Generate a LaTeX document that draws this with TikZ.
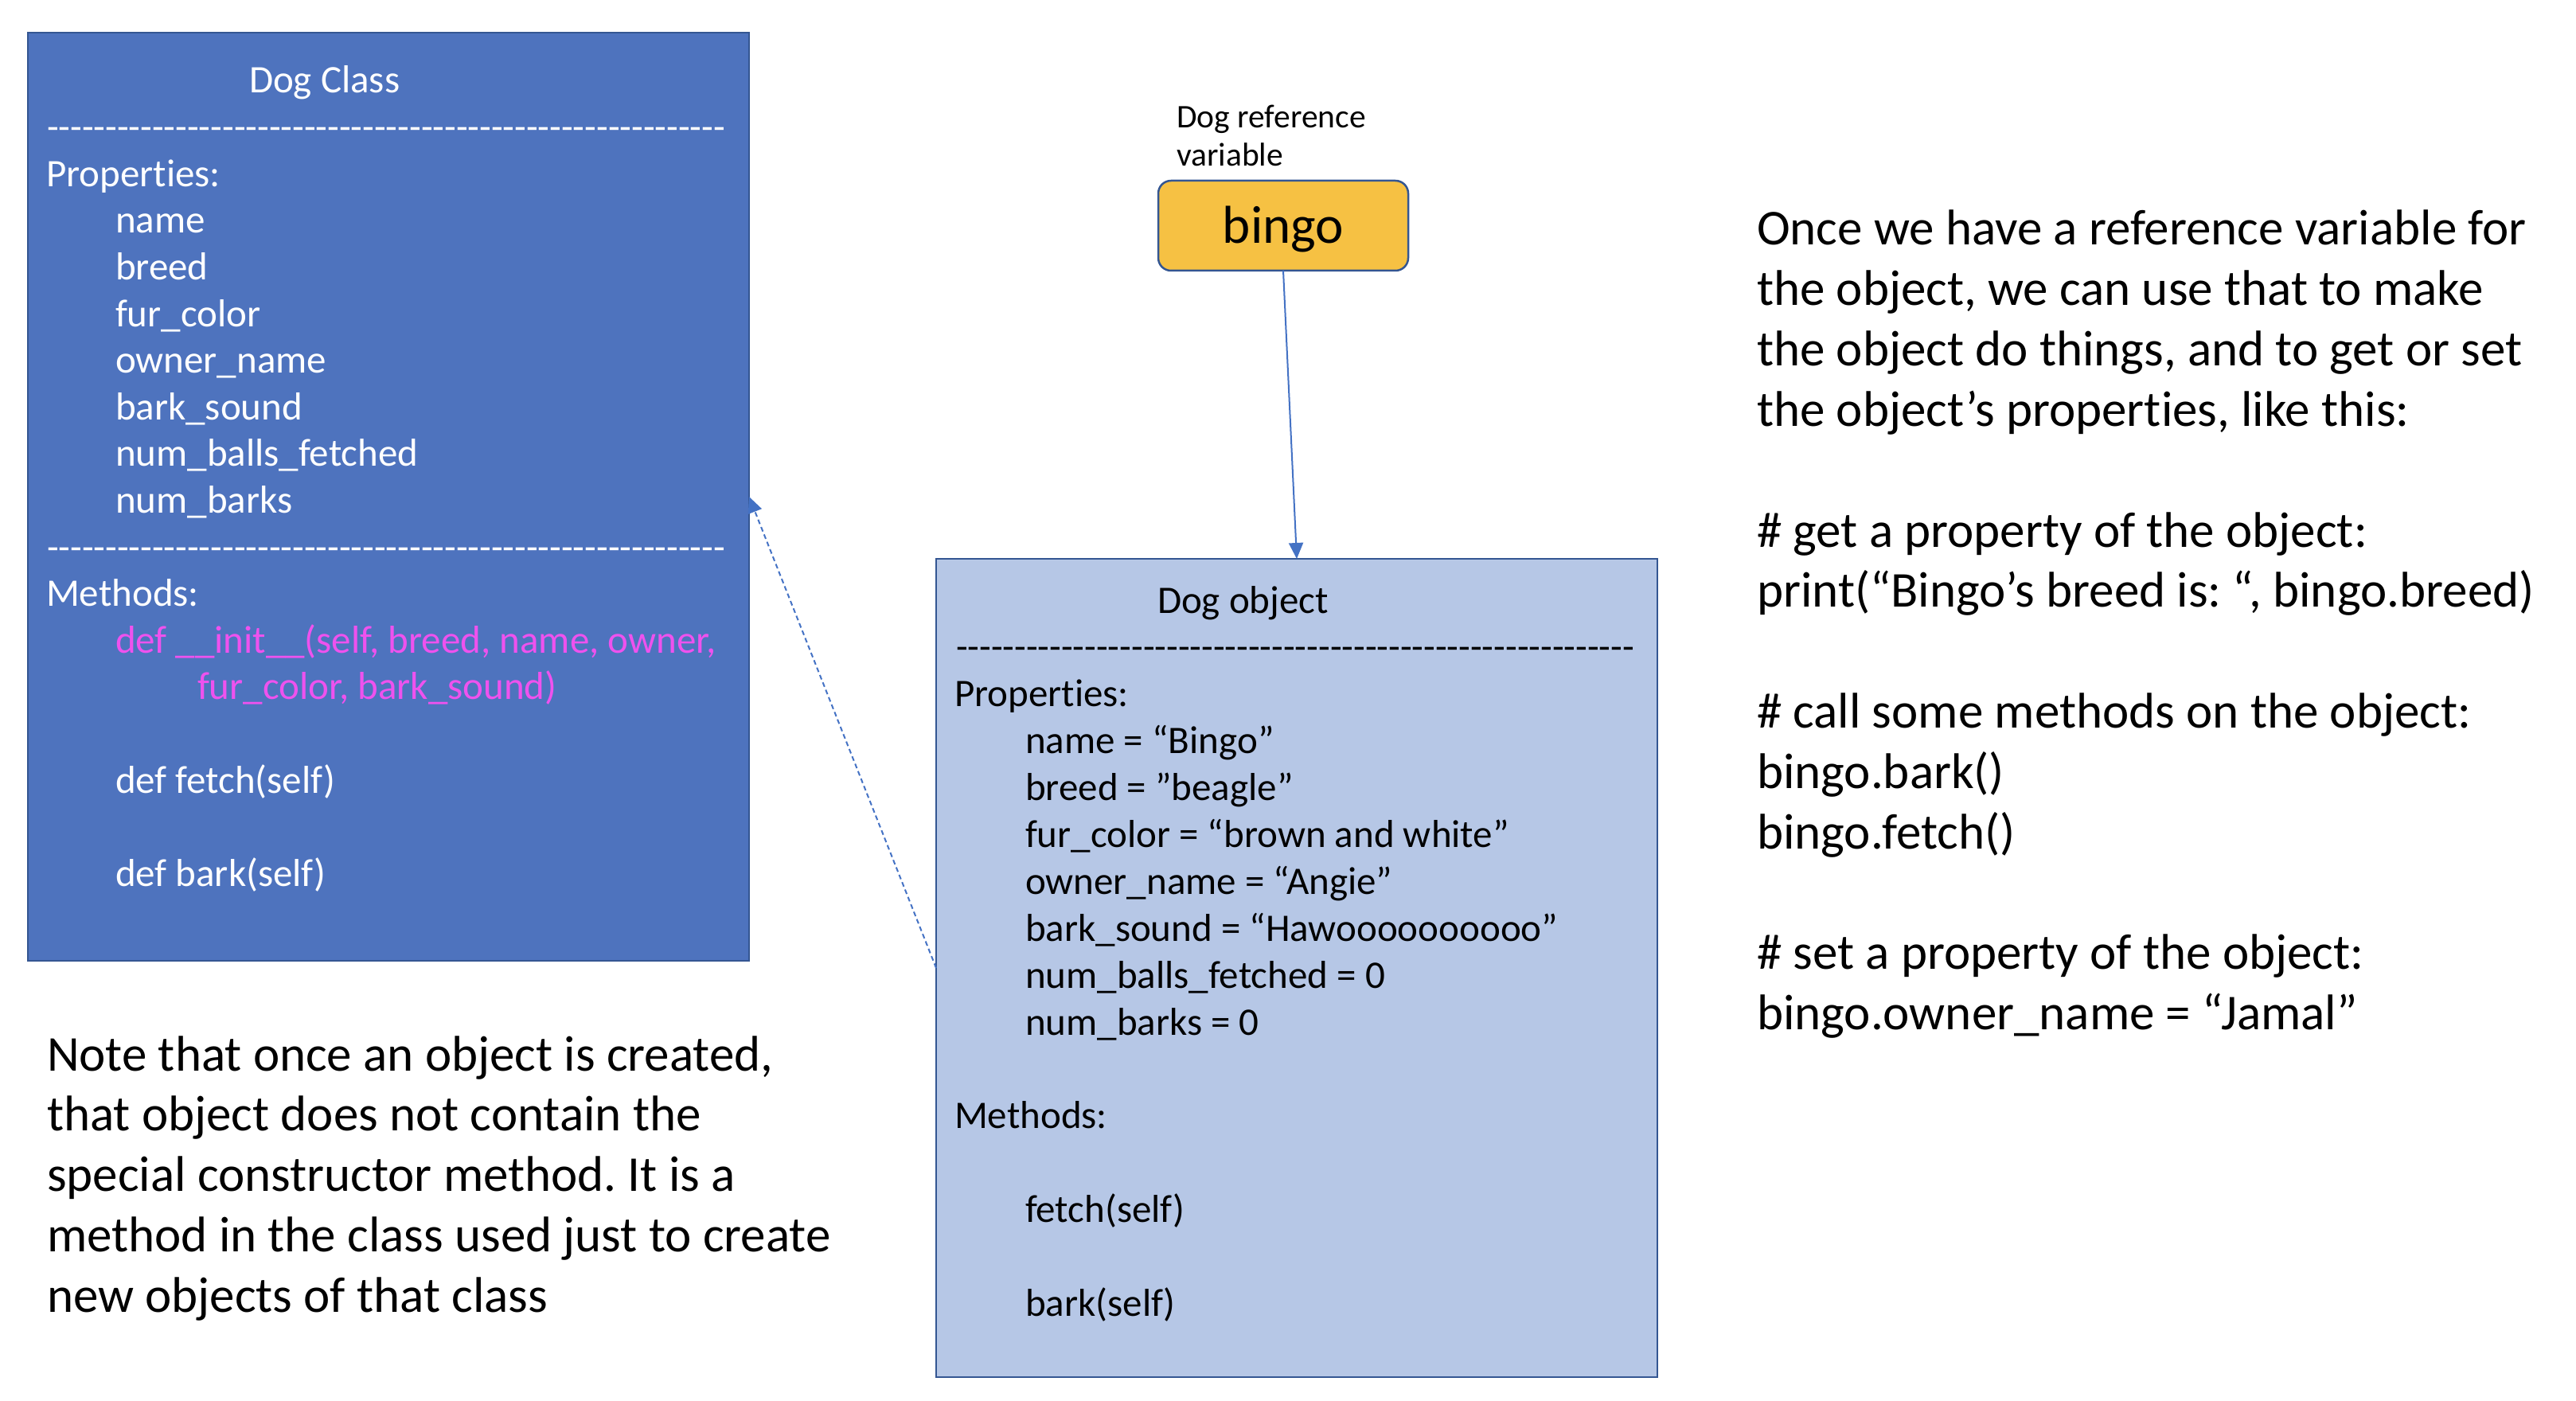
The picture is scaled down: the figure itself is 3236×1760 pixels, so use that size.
\documentclass[tikz,border=0pt]{standalone}
\usepackage{fontspec}
\setmainfont{Carlito}[Ligatures={TeXOff,NoCommon}]
\usetikzlibrary{arrows.meta}
\definecolor{classfill}{RGB}{78,115,190}
\definecolor{objfill}{RGB}{182,199,230}
\definecolor{edgeblue}{RGB}{52,86,146}
\definecolor{linkblue}{RGB}{68,114,196}
\definecolor{gold}{RGB}{246,193,67}
\definecolor{pinktext}{RGB}{238,82,238}
\newcommand\dashrow{----------------------------------------------------------}
\frenchspacing
\begin{document}
\begin{tikzpicture}[x=1pt,y=-1pt,
  boxstyle/.style={draw=edgeblue, line width=2.5pt, inner sep=0pt, outer sep=0pt},
  ln/.style={anchor=base west, inner sep=0pt, outer sep=0pt, font=\fontsize{49}{58.6}\selectfont},
  clsline/.style={ln, text=white},
  objline/.style={ln, text=black},
  dashline/.style={font=\fontsize{48}{58.6}\selectfont},
  bigline/.style={anchor=base west, inner sep=0pt, outer sep=0pt, font=\fontsize{63}{75.8}\selectfont},
  conn/.style={draw=linkblue, line width=2pt, -{Triangle[length=20pt,width=18pt]}}
]
\useasboundingbox (0,0) rectangle (3236,1760);

% boxes
\node[boxstyle, fill=classfill, minimum width=906pt, minimum height=1166pt] (cls) at (488,624) {};
\node[boxstyle, fill=objfill, minimum width=906pt, minimum height=1028pt] (obj) at (1629,1216) {};
\node[boxstyle, fill=gold, rounded corners=16pt, minimum width=314pt, minimum height=113pt,
      font=\fontsize{67}{78}\selectfont, text depth=14pt, text height=59pt] (bingo) at (1612,283.5) {bingo};

% label above bingo
\node[anchor=base west, inner sep=0pt, font=\fontsize{41.5}{48}\selectfont] (lab1) at (1478,161) {Dog reference};
\node[anchor=base west, inner sep=0pt, font=\fontsize{41.5}{48}\selectfont] (lab2) at (1478,209) {variable};

% class box text
\node[clsline] (c0) at (313,117) {Dog Class};
\node[clsline, dashline] (c1) at (59,175.6) {\dashrow};
\node[clsline] (c2) at (58,234.2) {Properties:};
\node[clsline] (c3) at (145,292.8) {name};
\node[clsline] (c4) at (145,351.4) {breed};
\node[clsline] (c5) at (145,410) {fur\_color};
\node[clsline] (c6) at (145,468.6) {owner\_name};
\node[clsline] (c7) at (145,527.2) {bark\_sound};
\node[clsline] (c8) at (145,585.8) {num\_balls\_fetched};
\node[clsline] (c9) at (145,644.4) {num\_barks};
\node[clsline, dashline] (c10) at (59,703) {\dashrow};
\node[clsline] (c11) at (58,761.6) {Methods:};
\node[clsline, text=pinktext] (c12) at (145,820.2) {def \_\_init\_\_(self, breed, name, owner,};
\node[clsline, text=pinktext] (c13) at (248,878.8) {fur\_color, bark\_sound)};
\node[clsline] (c15) at (145,996) {def fetch(self)};
\node[clsline] (c17) at (145,1113.2) {def bark(self)};

% object box text
\node[objline] (o0) at (1454,770) {Dog object};
\node[objline, dashline] (o1) at (1201,828.9) {\dashrow};
\node[objline] (o2) at (1199,887.8) {Properties:};
\node[objline] (o3) at (1288,946.7) {name = “Bingo”};
\node[objline] (o4) at (1288,1005.6) {breed = ”beagle”};
\node[objline] (o5) at (1288,1064.5) {fur\_color = “brown and white”};
\node[objline] (o6) at (1288,1123.4) {owner\_name = “Angie”};
\node[objline] (o7) at (1288,1182.3) {bark\_sound = “Hawoooooooooo”};
\node[objline] (o8) at (1288,1241.2) {num\_balls\_fetched = 0};
\node[objline] (o9) at (1288,1300.1) {num\_barks = 0};
\node[objline] (o11) at (1199,1417.9) {Methods:};
\node[objline] (o13) at (1288,1535.7) {fetch(self)};
\node[objline] (o15) at (1288,1653.5) {bark(self)};

% bottom-left note
\node[bigline] (n0) at (59,1345) {Note that once an object is created,};
\node[bigline] (n1) at (59,1420.8) {that object does not contain the};
\node[bigline] (n2) at (59,1496.6) {special constructor method. It is a};
\node[bigline] (n3) at (59,1572.4) {method in the class used just to create};
\node[bigline] (n4) at (59,1648.2) {new objects of that class};

% right text
\node[bigline] (r0) at (2207,308) {Once we have a reference variable for};
\node[bigline] (r1) at (2207,383.8) {the object, we can use that to make};
\node[bigline] (r2) at (2207,459.6) {the object do things, and to get or set};
\node[bigline] (r3) at (2207,535.4) {the object’s properties, like this:};
\node[bigline] (r5) at (2207,687) {\# get a property of the object:};
\node[bigline] (r6) at (2207,762.8) {print(“Bingo’s breed is: “, bingo.breed)};
\node[bigline] (r8) at (2207,914.4) {\# call some methods on the object:};
\node[bigline] (r9) at (2207,990.2) {bingo.bark()};
\node[bigline] (r10) at (2207,1066) {bingo.fetch()};
\node[bigline] (r12) at (2207,1217.6) {\# set a property of the object:};
\node[bigline] (r13) at (2207,1293.4) {bingo.owner\_name = “Jamal”};

% connectors
\draw[conn] (bingo.south) -- (obj.north);
\draw[conn, dash pattern=on 6pt off 4pt] (obj.west) -- (cls.east);
\end{tikzpicture}
\end{document}
